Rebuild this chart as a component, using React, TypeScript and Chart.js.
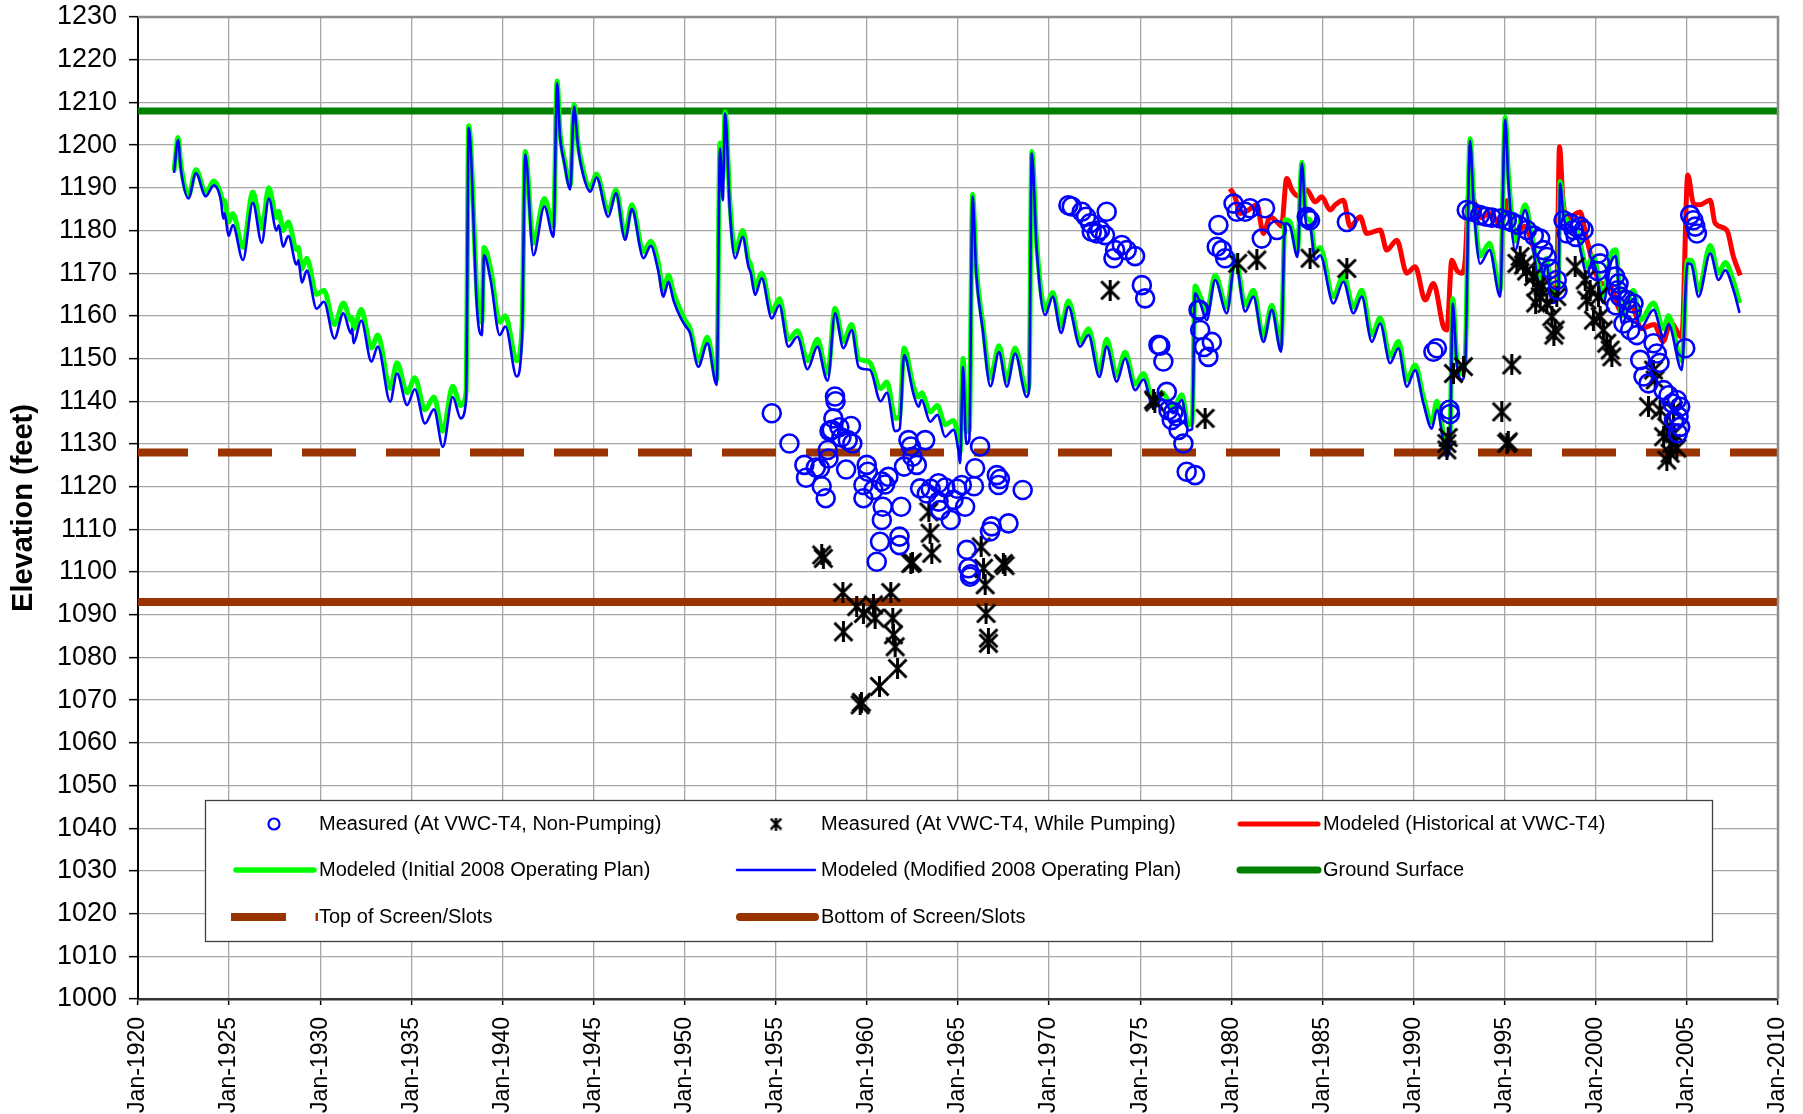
import React, { useEffect, useRef } from "react";
import { Chart, registerables } from "chart.js";

Chart.register(...registerables);

const FONT = '"Liberation Sans", Arial, Helvetica, sans-serif';

// ---- Data (year as decimal, elevation in feet) ----
const modifiedPlanPts: [number, number][] = [
  [1921.98, 1193.5], [1922.2, 1201.2], [1922.35, 1194.5], [1922.77, 1187.5], [1923.18, 1193.4], [1923.72, 1188.0],
  [1924.16, 1190.6], [1924.55, 1187.0], [1924.68, 1182.8], [1924.75, 1184.0], [1924.97, 1178.7], [1925.2, 1181.3],
  [1925.76, 1173.1], [1926.3, 1186.5], [1926.79, 1177.1], [1927.18, 1187.5], [1927.6, 1180.0], [1927.72, 1181.2],
  [1927.96, 1176.2], [1928.25, 1178.7], [1928.7, 1172.0], [1928.8, 1173.0], [1928.99, 1167.8], [1929.26, 1170.6],
  [1929.8, 1161.7], [1930.2, 1163.3], [1930.78, 1154.7], [1931.27, 1160.6], [1931.69, 1155.9], [1931.75, 1157.0],
  [1931.83, 1153.6], [1932.25, 1158.9], [1932.81, 1149.3], [1933.16, 1152.8], [1933.84, 1139.9], [1934.21, 1146.5],
  [1934.77, 1139.1], [1935.19, 1142.8], [1935.75, 1134.8], [1936.24, 1138.1], [1936.73, 1129.3], [1937.27, 1141.0],
  [1937.71, 1136.0], [1938.0, 1139.9], [1938.15, 1204.0], [1938.62, 1160.6], [1938.87, 1155.5], [1938.99, 1174.2],
  [1939.35, 1168.4], [1939.85, 1155.5], [1940.16, 1157.5], [1940.78, 1145.8], [1941.07, 1154.3], [1941.25, 1197.8],
  [1941.7, 1174.2], [1942.3, 1185.6], [1942.8, 1178.5], [1943.0, 1214.5], [1943.15, 1202.7], [1943.4, 1195.7],
  [1943.72, 1189.6], [1943.93, 1209.0], [1944.13, 1200.4], [1944.33, 1194.9], [1944.82, 1189.1], [1945.16, 1192.4],
  [1945.81, 1183.2], [1946.23, 1188.7], [1946.73, 1177.8], [1947.1, 1185.0], [1947.74, 1173.5], [1948.14, 1176.4],
  [1948.55, 1170.5], [1948.83, 1164.5], [1949.11, 1168.0], [1949.38, 1163.7], [1949.75, 1159.8], [1950.02, 1157.8],
  [1950.3, 1155.9], [1950.75, 1148.1], [1951.25, 1153.6], [1951.76, 1143.8], [1951.94, 1199.2], [1952.09, 1187.1],
  [1952.22, 1207.4], [1952.49, 1184.0], [1952.77, 1173.5], [1953.19, 1178.5], [1953.5, 1171.5], [1953.63, 1170.0],
  [1953.86, 1164.9], [1954.23, 1168.8], [1954.78, 1159.4], [1955.2, 1162.5], [1955.69, 1152.8], [1956.19, 1155.1],
  [1956.74, 1147.5], [1957.29, 1152.8], [1957.71, 1145.8], [1957.85, 1144.8], [1958.25, 1160.6], [1958.71, 1152.4],
  [1959.17, 1156.7], [1959.54, 1148.1], [1959.9, 1147.5], [1960.18, 1147.3], [1960.75, 1140.0], [1961.1, 1142.0],
  [1961.55, 1133.0], [1961.8, 1133.5], [1962.04, 1150.8], [1962.55, 1141.8], [1962.83, 1138.7], [1963.0, 1140.3],
  [1963.47, 1135.2], [1963.87, 1136.8], [1964.29, 1131.7], [1964.75, 1133.3], [1965.02, 1128.6], [1965.11, 1125.5],
  [1965.28, 1148.0], [1965.45, 1130.0], [1965.62, 1131.0], [1965.8, 1188.0], [1966.0, 1170.0], [1966.35, 1157.0],
  [1966.78, 1143.5], [1967.25, 1151.5], [1967.68, 1143.4], [1968.13, 1151.2], [1968.77, 1141.0], [1968.9, 1142.5],
  [1969.05, 1198.0], [1969.32, 1175.4], [1969.78, 1160.2], [1970.2, 1164.5], [1970.66, 1156.0], [1971.06, 1162.1],
  [1971.7, 1152.8], [1972.16, 1155.5], [1972.76, 1145.7], [1973.16, 1152.8], [1973.71, 1144.6], [1974.17, 1150.0],
  [1974.72, 1142.6], [1975.18, 1145.1], [1975.73, 1138.3], [1976.2, 1140.5], [1976.82, 1137.2], [1977.28, 1140.3],
  [1977.65, 1133.2], [1977.85, 1133.5], [1978.01, 1165.3], [1978.29, 1163.0], [1978.65, 1159.0], [1979.11, 1168.4],
  [1979.75, 1160.6], [1980.21, 1173.1], [1980.76, 1161.0], [1981.21, 1164.5], [1981.76, 1153.9], [1982.22, 1161.4],
  [1982.73, 1151.6], [1982.95, 1181.7], [1983.23, 1180.9], [1983.63, 1173.8], [1983.87, 1195.7], [1984.1, 1181.7],
  [1984.32, 1180.9], [1984.6, 1173.1], [1984.87, 1174.2], [1985.6, 1162.9], [1986.15, 1168.0], [1986.7, 1160.6],
  [1987.16, 1164.5], [1987.71, 1153.9], [1988.17, 1158.2], [1988.71, 1148.9], [1989.17, 1152.4], [1989.63, 1143.4],
  [1990.09, 1147.3], [1990.54, 1139.5], [1991.0, 1133.6], [1991.28, 1138.0], [1991.83, 1127.0], [1992.0, 1130.0],
  [1992.15, 1162.9], [1992.37, 1148.9], [1992.65, 1145.0], [1992.83, 1148.0], [1993.1, 1201.0], [1993.3, 1186.0],
  [1993.65, 1172.2], [1994.17, 1175.4], [1994.75, 1164.5], [1995.03, 1206.0], [1995.21, 1191.0], [1995.58, 1175.4],
  [1996.12, 1184.8], [1996.49, 1177.7], [1996.95, 1166.8], [1997.3, 1172.0], [1997.6, 1163.0], [1997.95, 1165.0],
  [1998.04, 1191.0], [1998.23, 1183.2], [1998.6, 1179.3], [1999.0, 1178.0], [1999.5, 1170.0], [1999.85, 1172.5],
  [2000.42, 1163.0], [2000.8, 1172.0], [2001.1, 1174.0], [2001.43, 1158.2], [2002.07, 1164.0], [2002.44, 1157.0],
  [2003.17, 1161.4], [2003.72, 1155.1], [2003.99, 1158.0], [2004.72, 1147.3], [2005.03, 1172.3], [2005.25, 1172.0],
  [2005.64, 1164.5], [2006.28, 1174.6], [2006.74, 1168.4], [2007.1, 1170.7], [2007.56, 1166.0], [2007.89, 1160.7],
];

const initialPlanPts: [number, number][] = [
  [1921.98, 1194.0], [1922.2, 1201.8], [1922.35, 1195.5], [1922.77, 1188.2], [1923.18, 1194.2], [1923.72, 1188.8],
  [1924.16, 1191.6], [1924.55, 1188.5], [1924.68, 1186.0], [1924.75, 1187.0], [1924.97, 1182.0], [1925.2, 1184.0],
  [1925.76, 1176.0], [1926.3, 1189.0], [1926.79, 1180.5], [1927.18, 1190.0], [1927.6, 1183.0], [1927.72, 1184.5],
  [1927.96, 1180.0], [1928.25, 1182.0], [1928.7, 1175.5], [1928.8, 1176.0], [1928.99, 1171.0], [1929.26, 1173.5],
  [1929.8, 1165.0], [1930.2, 1166.0], [1930.78, 1158.0], [1931.27, 1163.0], [1931.69, 1159.0], [1931.75, 1159.5],
  [1931.83, 1157.0], [1932.25, 1161.5], [1932.81, 1152.5], [1933.16, 1155.5], [1933.84, 1143.0], [1934.21, 1149.0],
  [1934.77, 1142.0], [1935.19, 1145.5], [1935.75, 1138.0], [1936.24, 1141.0], [1936.73, 1133.0], [1937.27, 1143.5],
  [1937.71, 1139.0], [1938.0, 1142.0], [1938.15, 1204.5], [1938.62, 1164.0], [1938.87, 1158.5], [1938.99, 1176.0],
  [1939.35, 1171.0], [1939.85, 1158.5], [1940.16, 1160.0], [1940.78, 1149.5], [1941.07, 1157.0], [1941.25, 1198.5],
  [1941.7, 1177.0], [1942.3, 1187.5], [1942.8, 1181.0], [1943.0, 1215.0], [1943.15, 1203.5], [1943.4, 1196.5],
  [1943.72, 1190.5], [1943.93, 1209.5], [1944.13, 1201.0], [1944.33, 1196.0], [1944.82, 1190.0], [1945.16, 1193.2],
  [1945.81, 1184.5], [1946.23, 1189.5], [1946.73, 1179.0], [1947.1, 1186.0], [1947.74, 1175.0], [1948.14, 1177.5],
  [1948.55, 1172.5], [1948.83, 1166.0], [1949.11, 1169.5], [1949.38, 1165.5], [1949.75, 1161.5], [1950.02, 1159.0],
  [1950.3, 1157.0], [1950.75, 1149.5], [1951.25, 1155.0], [1951.76, 1145.0], [1951.94, 1200.5], [1952.09, 1192.0],
  [1952.22, 1207.8], [1952.49, 1186.0], [1952.77, 1175.0], [1953.19, 1180.0], [1953.5, 1173.0], [1953.63, 1172.0],
  [1953.86, 1166.5], [1954.23, 1170.0], [1954.78, 1161.0], [1955.2, 1164.0], [1955.69, 1154.5], [1956.19, 1156.5],
  [1956.74, 1149.5], [1957.29, 1154.5], [1957.71, 1147.5], [1957.85, 1146.5], [1958.25, 1161.8], [1958.71, 1154.0],
  [1959.17, 1158.0], [1959.54, 1150.0], [1959.9, 1149.5], [1960.18, 1149.0], [1960.75, 1143.0], [1961.1, 1144.5],
  [1961.55, 1136.0], [1961.8, 1136.5], [1962.04, 1152.5], [1962.55, 1143.5], [1962.83, 1141.0], [1963.0, 1142.0],
  [1963.47, 1137.5], [1963.87, 1139.0], [1964.29, 1134.5], [1964.75, 1135.5], [1965.02, 1131.0], [1965.11, 1128.0],
  [1965.28, 1150.0], [1965.45, 1133.0], [1965.62, 1133.0], [1965.8, 1188.5], [1966.0, 1171.5], [1966.35, 1158.5],
  [1966.78, 1145.5], [1967.25, 1153.0], [1967.68, 1145.0], [1968.13, 1152.5], [1968.77, 1142.5], [1968.9, 1144.0],
  [1969.05, 1198.5], [1969.32, 1177.0], [1969.78, 1161.5], [1970.2, 1165.5], [1970.66, 1157.5], [1971.06, 1163.5],
  [1971.7, 1154.0], [1972.16, 1157.0], [1972.76, 1147.0], [1973.16, 1154.5], [1973.71, 1146.0], [1974.17, 1151.5],
  [1974.72, 1144.0], [1975.18, 1146.5], [1975.73, 1139.8], [1976.2, 1142.0], [1976.82, 1138.5], [1977.28, 1141.5],
  [1977.65, 1134.5], [1977.85, 1135.0], [1978.01, 1167.0], [1978.29, 1164.5], [1978.65, 1161.0], [1979.11, 1169.5],
  [1979.75, 1162.0], [1980.21, 1174.0], [1980.76, 1162.5], [1981.21, 1166.0], [1981.76, 1155.0], [1982.22, 1162.5],
  [1982.73, 1153.0], [1982.95, 1182.5], [1983.23, 1182.0], [1983.63, 1175.0], [1983.87, 1196.0], [1984.1, 1183.0],
  [1984.32, 1182.5], [1984.6, 1175.0], [1984.87, 1176.0], [1985.6, 1164.5], [1986.15, 1169.5], [1986.7, 1162.0],
  [1987.16, 1166.0], [1987.71, 1155.5], [1988.17, 1159.5], [1988.71, 1150.5], [1989.17, 1154.0], [1989.63, 1145.0],
  [1990.09, 1148.5], [1990.54, 1141.0], [1991.0, 1135.0], [1991.28, 1140.0], [1991.83, 1129.0], [1992.0, 1132.0],
  [1992.15, 1164.0], [1992.37, 1150.0], [1992.65, 1146.5], [1992.83, 1149.5], [1993.1, 1201.5], [1993.3, 1187.5],
  [1993.65, 1174.0], [1994.17, 1177.0], [1994.75, 1166.0], [1995.03, 1206.5], [1995.21, 1193.0], [1995.58, 1177.5],
  [1996.12, 1186.0], [1996.49, 1179.0], [1996.95, 1168.5], [1997.3, 1173.5], [1997.6, 1165.0], [1997.95, 1167.0],
  [1998.04, 1191.5], [1998.23, 1185.0], [1998.6, 1181.0], [1999.0, 1179.5], [1999.5, 1171.5], [1999.85, 1174.0],
  [2000.42, 1164.5], [2000.8, 1174.0], [2001.1, 1175.5], [2001.43, 1160.0], [2002.07, 1166.0], [2002.44, 1159.0],
  [2003.17, 1163.0], [2003.72, 1157.0], [2003.99, 1160.0], [2004.72, 1149.5], [2005.03, 1173.0], [2005.25, 1173.0],
  [2005.64, 1166.0], [2006.28, 1176.5], [2006.74, 1170.0], [2007.1, 1172.5], [2007.56, 1168.0], [2007.89, 1163.0],
];

const historicalPts: [number, number][] = [
  [1979.93, 1189.8], [1980.2, 1187.9], [1980.48, 1184.0], [1980.94, 1184.8], [1981.4, 1186.0], [1981.76, 1179.3],
  [1982.13, 1183.2], [1982.5, 1182.0], [1982.75, 1181.0], [1983.04, 1192.2], [1983.32, 1189.5], [1983.7, 1188.0],
  [1984.14, 1189.5], [1984.6, 1186.7], [1984.96, 1187.9], [1985.42, 1184.8], [1985.7, 1186.0], [1986.15, 1187.1],
  [1986.52, 1180.9], [1987.07, 1183.2], [1987.43, 1179.3], [1988.17, 1180.1], [1988.53, 1175.4], [1989.08, 1177.7],
  [1989.63, 1170.0], [1990.09, 1171.5], [1990.64, 1163.7], [1991.09, 1167.6], [1991.64, 1157.4], [1991.83, 1156.7],
  [1992.1, 1173.0], [1992.37, 1170.7], [1992.65, 1170.0], [1992.83, 1173.0], [1993.05, 1189.5], [1993.4, 1186.0],
  [1993.7, 1183.0], [1994.2, 1184.0], [1994.8, 1181.0], [1995.15, 1187.0], [1995.6, 1179.0], [1996.1, 1181.0],
  [1996.5, 1177.0], [1996.9, 1171.0], [1997.4, 1168.0], [1997.85, 1166.0], [1998.01, 1199.6], [1998.2, 1187.0],
  [1998.5, 1183.0], [1999.14, 1184.3], [1999.5, 1178.0], [2000.2, 1168.0], [2000.8, 1167.0], [2001.4, 1161.0],
  [2002.0, 1162.0], [2002.5, 1157.0], [2003.2, 1158.0], [2003.7, 1154.0], [2004.1, 1158.5], [2004.72, 1155.0],
  [2005.05, 1193.0], [2005.36, 1186.3], [2005.7, 1186.0], [2006.28, 1187.1], [2006.55, 1181.7], [2007.19, 1180.1],
  [2007.56, 1173.8], [2007.93, 1169.5],
];

const nonPumpingPts: [number, number][] = [
  [1954.78, 1137.2], [1955.75, 1130.1], [1956.57, 1125.1], [1956.66, 1122.1], [1957.2, 1124.5], [1957.43, 1124.3],
  [1957.52, 1120.1], [1957.74, 1117.3], [1957.85, 1128.6], [1957.89, 1126.6], [1957.95, 1133.0], [1958.07, 1133.3],
  [1958.16, 1136.0], [1958.25, 1141.1], [1958.28, 1140.0], [1958.49, 1133.9], [1958.6, 1131.5], [1958.86, 1124.0],
  [1958.95, 1130.9], [1959.13, 1134.2], [1959.2, 1130.1], [1959.81, 1120.4], [1959.81, 1117.3], [1959.99, 1125.1],
  [1960.05, 1123.5], [1960.36, 1119.2], [1960.54, 1102.4], [1960.72, 1107.1], [1960.82, 1112.2], [1960.82, 1121.2],
  [1960.87, 1115.3], [1961.0, 1120.5], [1961.18, 1122.3], [1961.79, 1108.3], [1961.79, 1106.3], [1961.88, 1115.3],
  [1962.04, 1124.7], [1962.28, 1130.9], [1962.41, 1129.4], [1962.5, 1127.0], [1962.74, 1125.1], [1962.92, 1119.6],
  [1963.2, 1130.9], [1963.29, 1118.4], [1963.5, 1119.5], [1963.93, 1120.8], [1963.93, 1116.5], [1964.02, 1114.5],
  [1964.3, 1119.8], [1964.6, 1112.2], [1964.75, 1116.9], [1964.95, 1119.5], [1965.21, 1120.4], [1965.39, 1115.3],
  [1965.48, 1105.2], [1965.57, 1100.9], [1965.66, 1098.9], [1965.7, 1099.5], [1965.88, 1120.1], [1965.94, 1124.3],
  [1966.21, 1129.4], [1966.76, 1109.5], [1966.85, 1110.7], [1967.13, 1122.7], [1967.22, 1120.4], [1967.3, 1121.8],
  [1967.77, 1111.4], [1968.55, 1119.2],
  [1971.06, 1185.9], [1971.24, 1185.6], [1971.79, 1184.4], [1972.03, 1183.2], [1972.25, 1181.7], [1972.34, 1179.7],
  [1972.62, 1179.3], [1972.8, 1180.1], [1973.07, 1178.9], [1973.16, 1184.4], [1973.53, 1173.5], [1973.62, 1175.4],
  [1973.99, 1176.6], [1974.26, 1175.4], [1974.72, 1174.0], [1975.09, 1167.2], [1975.27, 1164.1], [1976.0, 1153.2],
  [1976.1, 1153.0], [1976.27, 1149.3], [1976.46, 1142.2], [1976.55, 1137.9], [1976.73, 1135.6], [1976.82, 1137.5],
  [1977.0, 1136.5], [1977.1, 1133.3], [1977.37, 1130.1], [1977.55, 1123.5], [1978.01, 1122.7], [1978.2, 1161.4],
  [1978.25, 1161.4], [1978.29, 1156.7], [1978.5, 1152.7], [1978.74, 1150.4], [1978.93, 1153.9], [1979.2, 1176.2],
  [1979.29, 1181.3], [1979.48, 1175.4], [1979.66, 1173.5], [1980.12, 1186.3], [1980.3, 1184.4], [1980.76, 1184.4],
  [1981.03, 1185.2], [1981.67, 1178.1], [1981.85, 1185.2], [1982.5, 1180.1], [1984.14, 1183.2], [1984.2, 1182.8],
  [1984.32, 1182.4], [1986.34, 1182.0],
  [1991.09, 1151.6], [1991.28, 1152.4], [1991.97, 1138.0], [1992.0, 1137.0], [1992.92, 1184.8], [1993.2, 1184.4],
  [1993.65, 1183.6], [1993.98, 1183.2], [1994.3, 1183.0], [1994.75, 1182.8], [1995.12, 1182.4], [1995.39, 1182.0],
  [1995.76, 1181.3], [1996.22, 1180.1], [1996.6, 1178.8], [1996.95, 1178.1], [1997.13, 1175.4], [1997.31, 1173.8],
  [1997.5, 1171.0], [1997.86, 1168.4], [1997.9, 1166.0], [1998.23, 1182.4], [1998.41, 1179.3], [1998.6, 1181.7],
  [1998.78, 1180.1], [1998.9, 1178.5], [1999.14, 1180.9], [1999.33, 1180.1], [2000.1, 1170.5], [2000.15, 1174.6],
  [2000.24, 1172.3], [2001.06, 1169.2], [2001.1, 1162.5], [2001.2, 1166.0], [2001.25, 1167.6], [2001.34, 1164.5],
  [2001.52, 1158.2], [2001.7, 1163.7], [2001.89, 1156.7], [2001.98, 1161.2], [2002.07, 1162.9], [2002.25, 1155.5],
  [2002.44, 1149.7], [2002.62, 1145.8], [2002.89, 1144.2], [2003.17, 1153.6], [2003.35, 1151.2], [2003.5, 1149.0],
  [2003.72, 1142.6], [2003.99, 1141.4], [2004.2, 1139.5], [2004.3, 1135.5], [2004.45, 1140.3], [2004.5, 1132.5],
  [2004.54, 1136.4], [2004.63, 1138.7], [2004.63, 1134.0], [2004.91, 1152.4], [2005.18, 1183.6], [2005.36, 1182.4],
  [2005.46, 1180.9], [2005.55, 1179.3],
];

const pumpingPts: [number, number][] = [
  [1957.52, 1104.0], [1957.61, 1103.2], [1958.68, 1095.2], [1958.71, 1086.0], [1959.44, 1091.9], [1959.63, 1068.9],
  [1959.7, 1069.5], [1959.81, 1090.3], [1960.36, 1092.3], [1960.45, 1089.2], [1960.69, 1073.2], [1961.31, 1095.2],
  [1961.42, 1089.2], [1961.46, 1085.3], [1961.55, 1082.5], [1961.68, 1077.4], [1962.41, 1102.0], [1962.5, 1102.3],
  [1963.4, 1114.1], [1963.47, 1109.1], [1963.56, 1104.4], [1966.27, 1105.9], [1966.4, 1100.9], [1966.49, 1097.0],
  [1966.54, 1090.3], [1966.67, 1084.5], [1966.67, 1083.3], [1967.49, 1102.0], [1967.58, 1101.5],
  [1973.35, 1166.0], [1975.73, 1140.3], [1975.8, 1139.8], [1978.56, 1136.0], [1980.35, 1172.3], [1981.4, 1173.1],
  [1984.32, 1173.5], [1986.34, 1171.1],
  [1991.83, 1130.1], [1991.9, 1131.5], [1991.83, 1128.6], [1992.19, 1146.5], [1992.74, 1148.1], [1994.84, 1137.5],
  [1995.12, 1130.1], [1995.2, 1130.5], [1995.39, 1148.5], [1995.67, 1172.3], [1995.85, 1173.9], [1996.03, 1171.9],
  [1996.2, 1170.5], [1996.58, 1169.2], [1996.7, 1163.0], [1996.76, 1166.8], [1996.95, 1164.5], [1997.1, 1167.0],
  [1997.31, 1162.9], [1997.59, 1159.8], [1997.7, 1155.5], [1997.77, 1156.7], [1997.86, 1164.5], [1998.87, 1171.5],
  [1999.42, 1168.4], [1999.51, 1163.7], [1999.69, 1166.0], [1999.87, 1159.0], [2000.15, 1164.5], [2000.24, 1159.8],
  [2000.42, 1156.7], [2000.6, 1153.6], [2000.79, 1152.0], [2000.88, 1150.4], [2002.89, 1138.7], [2003.17, 1147.3],
  [2003.26, 1145.0], [2003.53, 1137.9], [2003.72, 1131.7], [2003.9, 1134.0], [2003.9, 1126.2], [2004.08, 1127.8],
  [2004.17, 1130.1], [2004.26, 1137.9], [2004.3, 1132.5], [2004.45, 1129.0],
];

const groundSurfacePts: [number, number][] = [[1920, 1208], [2010, 1208]];
const topOfScreenPts: [number, number][] = [[1920, 1128], [2010, 1128]];
const bottomOfScreenPts: [number, number][] = [[1920, 1093], [2010, 1093]];

const xTickYears = [1920, 1925, 1930, 1935, 1940, 1945, 1950, 1955, 1960, 1965, 1970, 1975, 1980, 1985, 1990, 1995, 2000, 2005, 2010];
const yTickValues = [1000, 1010, 1020, 1030, 1040, 1050, 1060, 1070, 1080, 1090, 1100, 1110, 1120, 1130, 1140, 1150, 1160, 1170, 1180, 1190, 1200, 1210, 1220, 1230];

const legendLabels = [
  "Measured (At VWC-T4, Non-Pumping)",
  "Measured (At VWC-T4, While Pumping)",
  "Modeled (Historical at VWC-T4)",
  "Modeled (Initial 2008 Operating Plan)",
  "Modeled (Modified 2008 Operating Plan)",
  "Ground Surface",
  "Top of Screen/Slots",
  "Bottom of Screen/Slots",
];

const COLORS = {
  measured: "#0000ff",
  pumping: "#000000",
  historical: "#ff0000",
  initial: "#00ff00",
  modified: "#0000ff",
  ground: "#008000",
  screen: "#993300",
};

const toXY = (pts: [number, number][]) => pts.map(([x, y]) => ({ x, y }));

function makeAsterisk(size: number, lw: number): HTMLCanvasElement {
  const c = document.createElement("canvas");
  c.width = size;
  c.height = size;
  const g = c.getContext("2d")!;
  g.strokeStyle = "#000";
  g.lineWidth = lw;
  const m = lw / 2;
  g.beginPath();
  g.moveTo(m, m);
  g.lineTo(size - m, size - m);
  g.moveTo(size - m, m);
  g.lineTo(m, size - m);
  g.moveTo(size / 2, 0);
  g.lineTo(size / 2, size);
  g.stroke();
  return c;
}

const framePlugin = {
  id: "frame",
  afterDatasetsDraw(chart: any) {
    const { ctx, chartArea } = chart;
    ctx.save();
    ctx.strokeStyle = "#8c8c8c";
    ctx.lineWidth = 2.5;
    ctx.beginPath();
    ctx.moveTo(chartArea.left, chartArea.top);
    ctx.lineTo(chartArea.right, chartArea.top);
    ctx.lineTo(chartArea.right, chartArea.bottom);
    ctx.stroke();
    ctx.restore();
  },
};

function makeLegendPlugin(legendStar: HTMLCanvasElement) {
  return {
    id: "boxLegend",
    afterDraw(chart: any) {
      const ctx: CanvasRenderingContext2D = chart.ctx;
      ctx.save();
      const bx = 205, by = 800, bw = 1507, bh = 141;
      ctx.fillStyle = "#ffffff";
      ctx.fillRect(bx, by, bw, bh);
      ctx.strokeStyle = "#404040";
      ctx.lineWidth = 1.3;
      ctx.strokeRect(bx + 0.5, by + 0.5, bw, bh);

      const rows = [824, 870, 917];
      const textX = [319, 821, 1323];
      ctx.font = `20px ${FONT}`;
      ctx.fillStyle = "#000";
      ctx.textBaseline = "middle";
      ctx.textAlign = "left";

      const line = (x1: number, x2: number, y: number, color: string, w: number, cap: CanvasLineCap) => {
        ctx.beginPath();
        ctx.strokeStyle = color;
        ctx.lineWidth = w;
        ctx.lineCap = cap;
        ctx.moveTo(x1, y);
        ctx.lineTo(x2, y);
        ctx.stroke();
      };

      // Row 1
      ctx.beginPath();
      ctx.strokeStyle = COLORS.measured;
      ctx.lineWidth = 2.2;
      ctx.arc(274, rows[0], 5.5, 0, Math.PI * 2);
      ctx.stroke();
      ctx.drawImage(legendStar, 776 - legendStar.width / 2, rows[0] - legendStar.height / 2);
      line(1240, 1318, rows[0], COLORS.historical, 5, "round");
      ctx.fillText(legendLabels[0], textX[0], rows[0]);
      ctx.fillText(legendLabels[1], textX[1], rows[0]);
      ctx.fillText(legendLabels[2], textX[2], rows[0]);

      // Row 2
      line(236, 314, rows[1], COLORS.initial, 5.5, "round");
      line(737, 815, rows[1], COLORS.modified, 2.5, "round");
      line(1240, 1318, rows[1], COLORS.ground, 7, "round");
      ctx.fillText(legendLabels[3], textX[0], rows[1]);
      ctx.fillText(legendLabels[4], textX[1], rows[1]);
      ctx.fillText(legendLabels[5], textX[2], rows[1]);

      // Row 3
      line(231, 286, rows[2], COLORS.screen, 8, "butt");
      line(315.5, 318, rows[2], COLORS.screen, 8, "butt");
      line(740, 815, rows[2], COLORS.screen, 8, "round");
      ctx.fillStyle = "#000";
      ctx.fillText(legendLabels[6], textX[0], rows[2]);
      ctx.fillText(legendLabels[7], textX[1], rows[2]);
      ctx.restore();
    },
  };
}

export default function App() {
  const ref = useRef<HTMLCanvasElement>(null);

  useEffect(() => {
    if (!ref.current) return;
    const star = makeAsterisk(21, 3);
    const legendStar = makeAsterisk(13, 2.4);

    const lineDefaults = {
      showLine: true,
      pointRadius: 0,
      pointHoverRadius: 0,
      fill: false,
      cubicInterpolationMode: "monotone" as const,
    };

    const chart = new Chart(ref.current, {
      type: "scatter",
      data: {
        datasets: [
          {
            label: legendLabels[0],
            data: toXY(nonPumpingPts),
            showLine: false,
            pointStyle: "circle",
            pointRadius: 9,
            pointBorderWidth: 2.6,
            pointBorderColor: COLORS.measured,
            pointBackgroundColor: "rgba(0,0,0,0)",
            order: 0,
          },
          {
            label: legendLabels[1],
            data: toXY(pumpingPts),
            showLine: false,
            pointStyle: star,
            pointRadius: 10.5,
            order: 1,
          },
          {
            ...lineDefaults,
            label: legendLabels[4],
            data: toXY(modifiedPlanPts),
            borderColor: COLORS.modified,
            borderWidth: 2.6,
            order: 2,
          },
          {
            ...lineDefaults,
            label: legendLabels[3],
            data: toXY(initialPlanPts),
            borderColor: COLORS.initial,
            borderWidth: 5,
            order: 3,
          },
          {
            ...lineDefaults,
            label: legendLabels[2],
            data: toXY(historicalPts),
            borderColor: COLORS.historical,
            borderWidth: 5,
            order: 4,
          },
          {
            ...lineDefaults,
            label: legendLabels[5],
            data: toXY(groundSurfacePts),
            borderColor: COLORS.ground,
            borderWidth: 7,
            borderCapStyle: "round",
            cubicInterpolationMode: "default",
            order: 5,
          },
          {
            ...lineDefaults,
            label: legendLabels[6],
            data: toXY(topOfScreenPts),
            borderColor: COLORS.screen,
            borderWidth: 8,
            borderDash: [46, 38],
            borderCapStyle: "square",
            cubicInterpolationMode: "default",
            order: 6,
          },
          {
            ...lineDefaults,
            label: legendLabels[7],
            data: toXY(bottomOfScreenPts),
            borderColor: COLORS.screen,
            borderWidth: 8,
            borderCapStyle: "round",
            cubicInterpolationMode: "default",
            order: 7,
          },
        ] as any,
      },
      options: {
        animation: false,
        responsive: false,
        events: [],
        layout: { padding: { top: 17, right: 25, bottom: 0, left: 0 } },
        plugins: {
          legend: { display: false },
          tooltip: { enabled: false },
          title: { display: false },
        },
        scales: {
          x: {
            type: "linear",
            min: 1920,
            max: 2010,
            afterFit: (s: any) => {
              s.height = 115;
              s.paddingLeft = 0;
              s.paddingRight = 0;
            },
            afterBuildTicks: (s: any) => {
              s.ticks = xTickYears.map((v) => ({ value: v }));
            },
            ticks: {
              autoSkip: false,
              minRotation: 90,
              maxRotation: 90,
              padding: 12,
              color: "#000",
              font: { family: FONT, size: 23 },
              callback: (v: any) => "Jan-" + v,
            },
            grid: { color: "#a6a6a6", lineWidth: 1.3, tickLength: 6, tickColor: "#000", tickWidth: 1.5 },
            border: { display: true, color: "#333333", width: 2.5 },
          },
          y: {
            type: "linear",
            min: 1000,
            max: 1230,
            afterFit: (s: any) => {
              s.width = 138;
              s.paddingTop = 0;
              s.paddingBottom = 0;
            },
            afterBuildTicks: (s: any) => {
              s.ticks = yTickValues.map((v) => ({ value: v }));
            },
            ticks: {
              autoSkip: false,
              padding: 12,
              color: "#000",
              font: { family: FONT, size: 27 },
              callback: (v: any) => String(v),
            },
            grid: { color: "#a6a6a6", lineWidth: 1.3, tickLength: 9, tickColor: "#000", tickWidth: 1.5 },
            border: { display: true, color: "#000000", width: 2 },
            title: {
              display: true,
              text: "Elevation (feet)",
              color: "#000",
              font: { family: FONT, size: 29, weight: "bold" },
              padding: { top: 7, bottom: 0 },
            },
          },
        },
      } as any,
      plugins: [framePlugin, makeLegendPlugin(legendStar)],
    });
    return () => chart.destroy();
  }, []);

  return (
    <div style={{ position: "fixed", left: 0, top: 0, width: 1803, height: 1114, background: "#ffffff" }}>
      <canvas ref={ref} width={1803} height={1114} style={{ display: "block", width: 1803, height: 1114 }} />
    </div>
  );
}
